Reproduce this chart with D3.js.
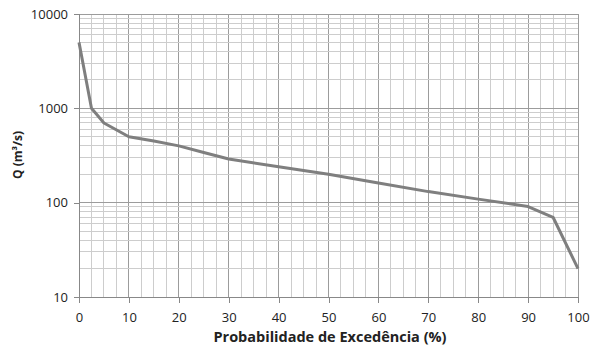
<!DOCTYPE html>
<html>
<head>
<meta charset="utf-8">
<script src="https://cdn.jsdelivr.net/npm/d3@7"></script>
<style>
  body { margin: 0; background: #fff; }
  text { font-family: "Open Sans", "DejaVu Sans", sans-serif; fill: #222; }
</style>
</head>
<body>
<svg id="chart" width="590" height="349"></svg>
<script>
// exceedance probability (%) and flow (m3/s)
var prob = [0, 2.5, 5, 10, 15, 20, 25, 30, 40, 50, 60, 70, 80, 90, 95, 100];
var flow = [5000, 1000, 700, 500, 450, 400, 340, 290, 240, 200, 162, 131, 109, 91, 70, 20];
var xTicks = [0, 10, 20, 30, 40, 50, 60, 70, 80, 90, 100];
var yTicks = [10, 100, 1000, 10000];

var W = 590, H = 349;
var pLeft = 79, pRight = 578, pTop = 14, pBottom = 297;

var svg = d3.select("#chart");

var x = d3.scaleLinear().domain([0, 100]).range([pLeft, pRight]);
var y = d3.scaleLog().domain([10, 10000]).range([pBottom, pTop]);

// vertical grid every 2.5, tens darker
var g = svg.append("g");
d3.range(0, 100.01, 2.5).forEach(function(v) {
  var major = v % 10 === 0;
  g.append("line")
    .attr("x1", x(v)).attr("x2", x(v))
    .attr("y1", pTop).attr("y2", pBottom)
    .attr("stroke", major ? "#9c9c9c" : "#cdcdcd")
    .attr("stroke-width", 1)
    .attr("shape-rendering", "crispEdges");
});

// horizontal grid: 2..9 per decade, decades darker
[10, 100, 1000].forEach(function(dec) {
  for (var k = 1; k <= 10; k++) {
    var v = dec * k;
    var major = (k === 1 || k === 10);
    g.append("line")
      .attr("x1", pLeft).attr("x2", pRight)
      .attr("y1", y(v)).attr("y2", y(v))
      .attr("stroke", major ? "#9c9c9c" : "#cdcdcd")
      .attr("stroke-width", 1)
      .attr("shape-rendering", "crispEdges");
  }
});

// axes
var xAxis = d3.axisBottom(x).tickValues(xTicks).tickSize(6).tickFormat(d3.format("d"));
var yAxis = d3.axisLeft(y).tickValues(yTicks).tickSize(5).tickFormat(d3.format("d"));

var gx = svg.append("g").attr("transform", "translate(0," + pBottom + ")").call(xAxis);
var gy = svg.append("g").attr("transform", "translate(" + pLeft + ",0)").call(yAxis);

[gx, gy].forEach(function(a) {
  a.select(".domain").attr("stroke", "#888").attr("shape-rendering", "crispEdges");
  a.selectAll(".tick line").attr("stroke", "#888").attr("shape-rendering", "crispEdges");
  a.selectAll(".tick text")
    .style("font-family", '"Open Sans", sans-serif')
    .style("font-size", "13px")
    .attr("fill", "#222");
});
gx.selectAll(".tick text").attr("dy", "1.2em");
gy.selectAll(".tick text").attr("x", -11);

// duration curve
var line = d3.line()
  .x(function(d, i) { return x(prob[i]); })
  .y(function(d) { return y(d); });

svg.append("path")
  .datum(flow)
  .attr("d", line)
  .attr("fill", "none")
  .attr("stroke", "#7f7f7f")
  .attr("stroke-width", 3)
  .attr("stroke-linejoin", "round");

// axis titles
svg.append("text")
  .attr("x", 330)
  .attr("y", 342)
  .attr("text-anchor", "middle")
  .style("font-size", "14.5px")
  .style("font-weight", "bold")
  .text("Probabilidade de Excedência (%)");

svg.append("text")
  .attr("transform", "translate(22,155) rotate(-90)")
  .attr("text-anchor", "middle")
  .style("font-size", "12px")
  .style("font-weight", "bold")
  .text("Q (m³/s)");
</script>
</body>
</html>
